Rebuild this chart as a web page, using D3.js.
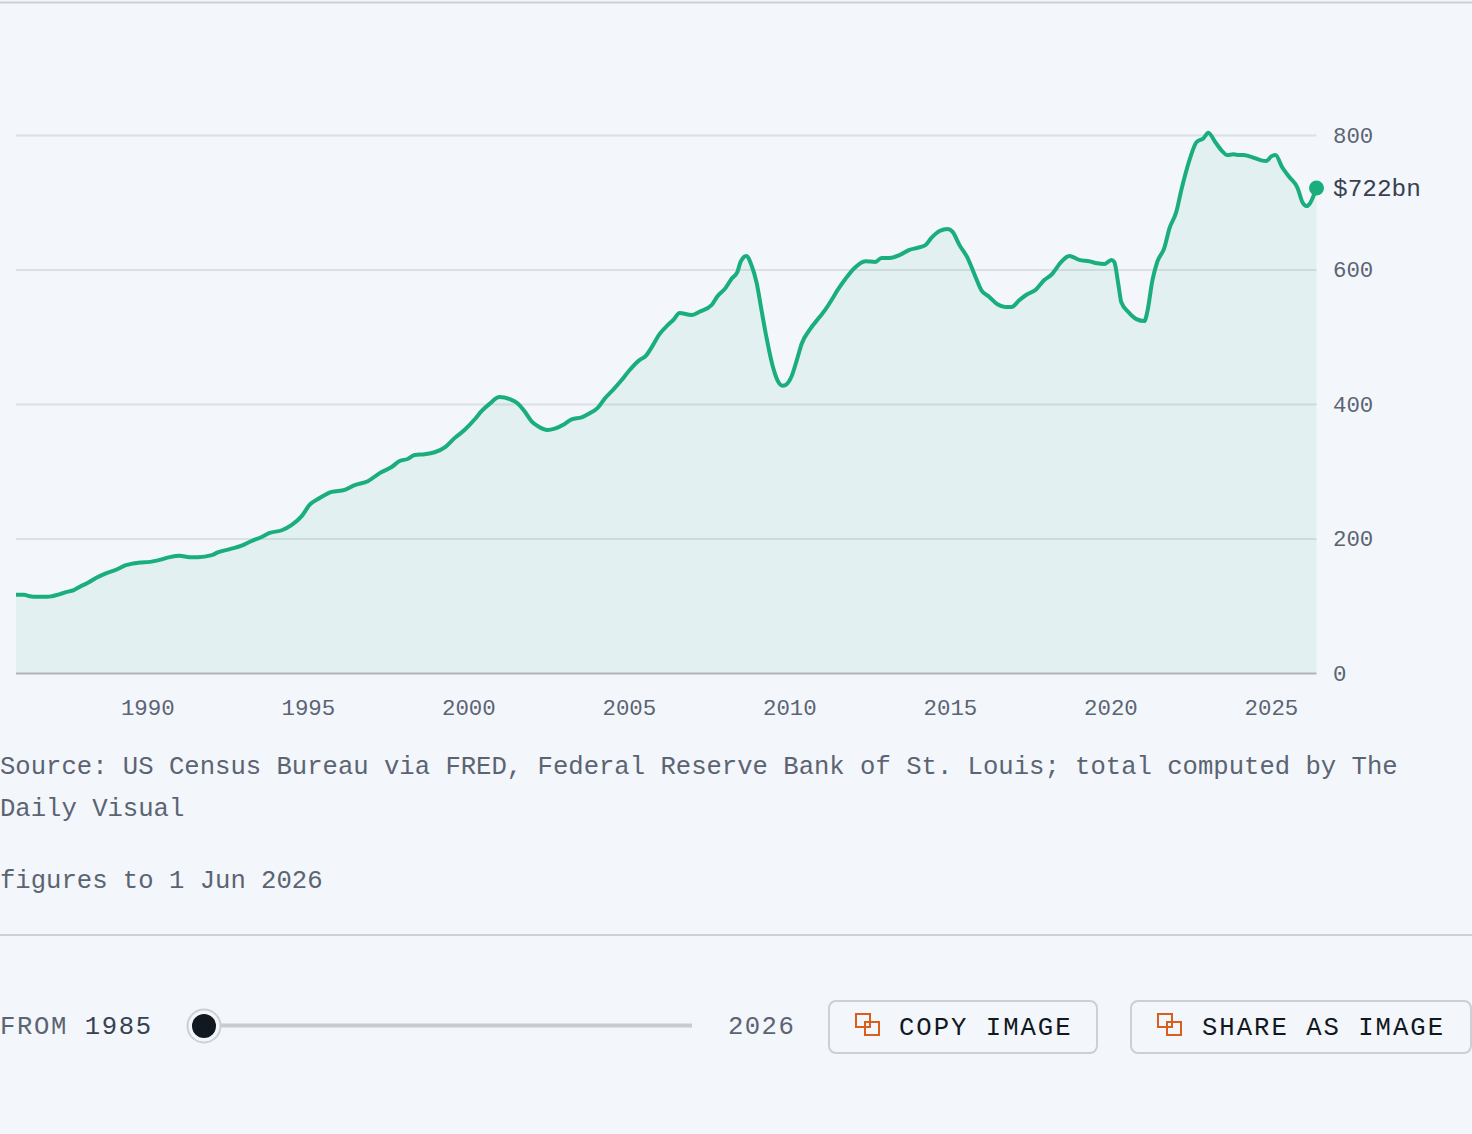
<!DOCTYPE html>
<html>
<head>
<meta charset="utf-8">
<script src="https://cdn.jsdelivr.net/npm/d3@7"></script>
<style>
html, body { margin: 0; padding: 0; background: #f3f6fb; overflow: hidden; }
svg { display: block; }
text { font-family: "Liberation Mono", monospace; }
</style>
</head>
<body>
<svg id="chart" width="1472" height="1134"></svg>
<script>
var years = [
    1985.91, 1986.16, 1986.34, 1986.53, 1986.90, 1987.03, 1987.28, 1987.46, 1987.71, 1987.90,
    1988.15, 1988.40, 1988.71, 1989.02, 1989.33, 1989.77, 1990.08, 1990.39, 1990.70, 1991.01,
    1991.32, 1991.57, 1992.01, 1992.19, 1992.57, 1992.94, 1993.25, 1993.56, 1993.81, 1994.19,
    1994.50, 1994.81, 1995.06, 1995.37, 1995.74, 1996.15, 1996.46, 1996.87, 1997.24, 1997.61,
    1997.86, 1998.11, 1998.33, 1998.64, 1998.95, 1999.29, 1999.57, 1999.88, 2000.20, 2000.41,
    2000.66, 2000.97, 2001.29, 2001.53, 2001.75, 2001.97, 2002.16, 2002.47, 2002.69, 2003.00,
    2003.22, 2003.53, 2003.78, 2004.03, 2004.27, 2004.55, 2004.77, 2005.02, 2005.33, 2005.52,
    2005.71, 2005.96, 2006.21, 2006.39, 2006.58, 2006.95, 2007.20, 2007.58, 2007.76, 2008.01,
    2008.20, 2008.38, 2008.48, 2008.66, 2008.82, 2008.98, 2009.13, 2009.29, 2009.47, 2009.63,
    2009.79, 2009.88, 2010.07, 2010.25, 2010.38, 2010.63, 2010.94, 2011.12, 2011.31, 2011.50,
    2011.75, 2012.03, 2012.37, 2012.68, 2012.87, 2013.12, 2013.43, 2013.74, 2013.99, 2014.24,
    2014.43, 2014.68, 2014.93, 2015.08, 2015.30, 2015.55, 2015.77, 2015.98, 2016.23, 2016.48,
    2016.73, 2016.92, 2017.16, 2017.41, 2017.66, 2017.94, 2018.16, 2018.47, 2018.72, 2019.03,
    2019.34, 2019.59, 2019.81, 2020.03, 2020.12, 2020.25, 2020.34, 2020.59, 2020.81, 2021.06,
    2021.15, 2021.31, 2021.46, 2021.68, 2021.84, 2022.05, 2022.21, 2022.46, 2022.68, 2022.90,
    2023.05, 2023.27, 2023.46, 2023.64, 2023.83, 2024.02, 2024.14, 2024.33, 2024.52, 2024.70,
    2024.86, 2025.01, 2025.14, 2025.36, 2025.58, 2025.83, 2025.98, 2026.11, 2026.20, 2026.42
];
var totals = [
    117, 117, 115, 114, 114, 115, 118, 121, 124, 129,
    135, 142, 149, 154, 161, 165, 166, 169, 173, 175,
    173, 173, 176, 180, 185, 190, 197, 203, 209, 213,
    221, 234, 251, 261, 270, 273, 280, 286, 298, 307,
    316, 319, 325, 326, 329, 337, 350, 362, 378, 390,
    401, 411, 408, 402, 390, 375, 368, 362, 364, 371,
    378, 381, 387, 395, 410, 424, 436, 451, 466, 472,
    485, 505, 518, 526, 536, 533, 538, 548, 561, 573,
    587, 597, 612, 621, 607, 581, 541, 499, 459, 436,
    428, 429, 442, 469, 490, 511, 530, 541, 555, 570,
    587, 603, 613, 612, 618, 618, 622, 630, 633, 637,
    648, 658, 661, 657, 637, 618, 593, 570, 560, 549,
    545, 545, 555, 564, 570, 585, 593, 612, 621, 615,
    613, 610, 609, 615, 612, 578, 552, 536, 527, 524,
    538, 585, 612, 633, 662, 686, 719, 763, 790, 796,
    804, 790, 778, 771, 772, 771, 771, 769, 766, 763,
    762, 769, 771, 752, 738, 722, 701, 695, 698, 722
];
var xTicks = [1990, 1995, 2000, 2005, 2010, 2015, 2020, 2025];
var yTicks = [0, 200, 400, 600, 800];
var sourceLines = [
    "Source: US Census Bureau via FRED, Federal Reserve Bank of St. Louis; total computed by The",
    "Daily Visual"
];
var asOf = "figures to 1 Jun 2026";

var GREEN = "#1aae7c", ORANGE = "#d9601a", RULE = "#cdd1d7", MUTED = "#5b6472", INK = "#111820";

var svg = d3.select("#chart"),
    data = years.map(function (d, i) { return { year: d, total: totals[i] }; }),
    last = data[data.length - 1];

var x = d3.scaleLinear().domain([1985.91, 2026.42]).range([16, 1316.5]),
    y = d3.scaleLinear().domain([0, 800]).range([673.5, 135.5]);

// page rules
svg.append("line").attr("x1", 0).attr("x2", 1472).attr("y1", 2.5).attr("y2", 2.5)
    .attr("stroke", RULE).attr("stroke-width", 2);
svg.append("line").attr("x1", 0).attr("x2", 1472).attr("y1", 935).attr("y2", 935)
    .attr("stroke", RULE).attr("stroke-width", 2);

// grid sits under the area so it shows through
svg.append("g").selectAll("line").data(yTicks.filter(function (d) { return d > 0; }))
    .enter().append("line")
    .attr("x1", x.range()[0]).attr("x2", x.range()[1])
    .attr("y1", y).attr("y2", y)
    .attr("stroke", "#dcdfe5").attr("stroke-width", 2);

svg.append("path").datum(data)
    .attr("d", d3.area()
        .curve(d3.curveMonotoneX)
        .x(function (d) { return x(d.year); })
        .y0(y(0))
        .y1(function (d) { return y(d.total); }))
    .attr("fill", GREEN).attr("fill-opacity", 0.08);

svg.append("line")
    .attr("x1", x.range()[0]).attr("x2", x.range()[1])
    .attr("y1", y(0)).attr("y2", y(0))
    .attr("stroke", "#b0b5bb").attr("stroke-width", 2);

svg.append("path").datum(data)
    .attr("d", d3.line()
        .curve(d3.curveMonotoneX)
        .x(function (d) { return x(d.year); })
        .y(function (d) { return y(d.total); }))
    .attr("fill", "none").attr("stroke", GREEN)
    .attr("stroke-width", 4).attr("stroke-linejoin", "round");

svg.append("circle").attr("cx", x(last.year)).attr("cy", y(last.total)).attr("r", 7.5).attr("fill", GREEN);
svg.append("text").attr("x", 1333).attr("y", y(last.total) + 8)
    .attr("font-size", 24.4).attr("fill", "#374151")
    .text("$" + last.total + "bn");

// axes
var xAxis = svg.append("g").attr("transform", "translate(0," + y(0) + ")")
    .call(d3.axisBottom(x).tickValues(xTicks).tickFormat(d3.format("d")).tickSize(0).tickPadding(26));
var yAxis = svg.append("g").attr("transform", "translate(1316.5,-0.5)")
    .call(d3.axisRight(y).tickValues(yTicks).tickSize(0).tickPadding(16.5));
[xAxis, yAxis].forEach(function (axis) {
    axis.select(".domain").remove();
    axis.selectAll("text")
        .attr("font-family", null)
        .style("font-family", '"Liberation Mono", monospace')
        .style("font-size", "22.4px")
        .attr("fill", MUTED);
});

// source note
svg.selectAll("text.source").data(sourceLines).enter().append("text")
    .attr("class", "source")
    .attr("x", 0)
    .attr("y", function (d, i) { return 774 + i * 42; })
    .attr("font-size", 25.6).attr("fill", MUTED)
    .text(function (d) { return d; });
svg.append("text").attr("x", 0).attr("y", 888)
    .attr("font-size", 25.6).attr("fill", MUTED).text(asOf);

// range control
var from = svg.append("text").attr("x", 0).attr("y", 1034)
    .attr("font-size", 25.6).attr("letter-spacing", 1.6).attr("fill", MUTED);
from.append("tspan").text("FROM ");
from.append("tspan").attr("fill", "#374151").text("1985");

svg.append("line").attr("x1", 204).attr("x2", 692).attr("y1", 1025.5).attr("y2", 1025.5)
    .attr("stroke", "#c8ccd2").attr("stroke-width", 4);
svg.append("circle").attr("cx", 204).attr("cy", 1026).attr("r", 16.5)
    .attr("fill", "#f3f6fb").attr("stroke", "#cbd0d5").attr("stroke-width", 2);
svg.append("circle").attr("cx", 204).attr("cy", 1026).attr("r", 12).attr("fill", INK);
svg.append("text").attr("x", 728).attr("y", 1034)
    .attr("font-size", 25.6).attr("letter-spacing", 1.44).attr("fill", MUTED).text("2026");

// buttons
function button(left, right, label, textX) {
    var g = svg.append("g");
    g.append("rect").attr("x", left).attr("y", 1001).attr("width", right - left).attr("height", 52)
        .attr("rx", 7).attr("fill", "none").attr("stroke", "#cbd0d5").attr("stroke-width", 2);
    g.append("rect").attr("x", left + 27).attr("y", 1014).attr("width", 14).attr("height", 13)
        .attr("fill", "none").attr("stroke", ORANGE).attr("stroke-width", 2);
    g.append("rect").attr("x", left + 36).attr("y", 1022).attr("width", 14).attr("height", 13)
        .attr("fill", "none").attr("stroke", ORANGE).attr("stroke-width", 2);
    g.append("text").attr("x", textX).attr("y", 1035)
        .attr("font-size", 25.6).attr("letter-spacing", 2).attr("fill", INK).text(label);
}
button(829, 1097, "COPY IMAGE", 899);
button(1131, 1471, "SHARE AS IMAGE", 1202);
</script>
</body>
</html>
